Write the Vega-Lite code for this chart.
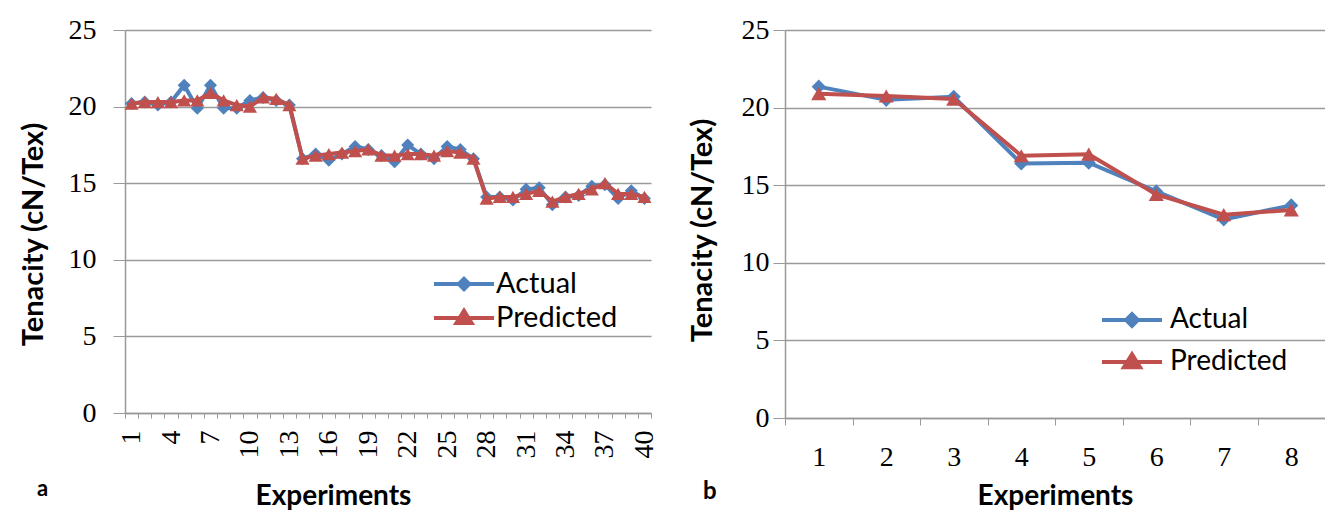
{
  "$schema": "https://vega.github.io/schema/vega-lite/v6.json",
  "background": "white",
  "padding": {"left": 19, "top": 16, "right": 0, "bottom": 0},
  "spacing": 29,
  "config": {
    "view": {"stroke": null},
    "font": "Lato",
    "legend": {"padding": 0}
  },
  "resolve": {
    "scale": {"color": "independent"},
    "legend": {"color": "independent"}
  },
  "datasets": {
    "a": [
      {"exp": 1, "series": "Actual", "value": 20.2}, {"exp": 2, "series": "Actual", "value": 20.3},
      {"exp": 3, "series": "Actual", "value": 20.1}, {"exp": 4, "series": "Actual", "value": 20.3},
      {"exp": 5, "series": "Actual", "value": 21.4}, {"exp": 6, "series": "Actual", "value": 19.9},
      {"exp": 7, "series": "Actual", "value": 21.4}, {"exp": 8, "series": "Actual", "value": 19.9},
      {"exp": 9, "series": "Actual", "value": 19.9}, {"exp": 10, "series": "Actual", "value": 20.4},
      {"exp": 11, "series": "Actual", "value": 20.6}, {"exp": 12, "series": "Actual", "value": 20.4},
      {"exp": 13, "series": "Actual", "value": 20.1}, {"exp": 14, "series": "Actual", "value": 16.6},
      {"exp": 15, "series": "Actual", "value": 16.9}, {"exp": 16, "series": "Actual", "value": 16.5},
      {"exp": 17, "series": "Actual", "value": 16.9}, {"exp": 18, "series": "Actual", "value": 17.4},
      {"exp": 19, "series": "Actual", "value": 17.2}, {"exp": 20, "series": "Actual", "value": 16.8},
      {"exp": 21, "series": "Actual", "value": 16.4}, {"exp": 22, "series": "Actual", "value": 17.5},
      {"exp": 23, "series": "Actual", "value": 16.9}, {"exp": 24, "series": "Actual", "value": 16.6},
      {"exp": 25, "series": "Actual", "value": 17.4}, {"exp": 26, "series": "Actual", "value": 17.2},
      {"exp": 27, "series": "Actual", "value": 16.6}, {"exp": 28, "series": "Actual", "value": 14.1},
      {"exp": 29, "series": "Actual", "value": 14.1}, {"exp": 30, "series": "Actual", "value": 13.9},
      {"exp": 31, "series": "Actual", "value": 14.6}, {"exp": 32, "series": "Actual", "value": 14.7},
      {"exp": 33, "series": "Actual", "value": 13.6}, {"exp": 34, "series": "Actual", "value": 14.1},
      {"exp": 35, "series": "Actual", "value": 14.2}, {"exp": 36, "series": "Actual", "value": 14.8},
      {"exp": 37, "series": "Actual", "value": 14.9}, {"exp": 38, "series": "Actual", "value": 14.0},
      {"exp": 39, "series": "Actual", "value": 14.5}, {"exp": 40, "series": "Actual", "value": 14.0},
      {"exp": 1, "series": "Predicted", "value": 20.2}, {"exp": 2, "series": "Predicted", "value": 20.3},
      {"exp": 3, "series": "Predicted", "value": 20.3}, {"exp": 4, "series": "Predicted", "value": 20.3},
      {"exp": 5, "series": "Predicted", "value": 20.4}, {"exp": 6, "series": "Predicted", "value": 20.4},
      {"exp": 7, "series": "Predicted", "value": 20.9}, {"exp": 8, "series": "Predicted", "value": 20.4},
      {"exp": 9, "series": "Predicted", "value": 20.1}, {"exp": 10, "series": "Predicted", "value": 20.0},
      {"exp": 11, "series": "Predicted", "value": 20.6}, {"exp": 12, "series": "Predicted", "value": 20.5},
      {"exp": 13, "series": "Predicted", "value": 20.1}, {"exp": 14, "series": "Predicted", "value": 16.6},
      {"exp": 15, "series": "Predicted", "value": 16.8}, {"exp": 16, "series": "Predicted", "value": 16.9},
      {"exp": 17, "series": "Predicted", "value": 17.0}, {"exp": 18, "series": "Predicted", "value": 17.1},
      {"exp": 19, "series": "Predicted", "value": 17.2}, {"exp": 20, "series": "Predicted", "value": 16.8},
      {"exp": 21, "series": "Predicted", "value": 16.8}, {"exp": 22, "series": "Predicted", "value": 16.9},
      {"exp": 23, "series": "Predicted", "value": 16.9}, {"exp": 24, "series": "Predicted", "value": 16.8},
      {"exp": 25, "series": "Predicted", "value": 17.1}, {"exp": 26, "series": "Predicted", "value": 17.0},
      {"exp": 27, "series": "Predicted", "value": 16.6}, {"exp": 28, "series": "Predicted", "value": 14.0},
      {"exp": 29, "series": "Predicted", "value": 14.1}, {"exp": 30, "series": "Predicted", "value": 14.1},
      {"exp": 31, "series": "Predicted", "value": 14.3}, {"exp": 32, "series": "Predicted", "value": 14.5},
      {"exp": 33, "series": "Predicted", "value": 13.8}, {"exp": 34, "series": "Predicted", "value": 14.1},
      {"exp": 35, "series": "Predicted", "value": 14.3}, {"exp": 36, "series": "Predicted", "value": 14.6},
      {"exp": 37, "series": "Predicted", "value": 15.0}, {"exp": 38, "series": "Predicted", "value": 14.3},
      {"exp": 39, "series": "Predicted", "value": 14.3}, {"exp": 40, "series": "Predicted", "value": 14.1}
    ],
    "b": [
      {"exp": 1, "series": "Actual", "value": 21.35}, {"exp": 2, "series": "Actual", "value": 20.5},
      {"exp": 3, "series": "Actual", "value": 20.7}, {"exp": 4, "series": "Actual", "value": 16.4},
      {"exp": 5, "series": "Actual", "value": 16.45}, {"exp": 6, "series": "Actual", "value": 14.6},
      {"exp": 7, "series": "Actual", "value": 12.8}, {"exp": 8, "series": "Actual", "value": 13.7},
      {"exp": 1, "series": "Predicted", "value": 20.9}, {"exp": 2, "series": "Predicted", "value": 20.75},
      {"exp": 3, "series": "Predicted", "value": 20.55}, {"exp": 4, "series": "Predicted", "value": 16.9},
      {"exp": 5, "series": "Predicted", "value": 17.0}, {"exp": 6, "series": "Predicted", "value": 14.4},
      {"exp": 7, "series": "Predicted", "value": 13.1}, {"exp": 8, "series": "Predicted", "value": 13.4}
    ]
  },
  "hconcat": [
    {
      "width": 526,
      "height": 383,
      "data": {"name": "a"},
      "title": {"text": "a", "orient": "bottom", "anchor": "start", "frame": "group", "dx": -88, "dy": -35, "font": "Lato", "fontSize": 22, "fontWeight": "bold", "color": "black"},
      "encoding": {
        "x": {
          "field": "exp", "type": "ordinal", "bandPosition": 0.5,
          "scale": {"type": "band", "paddingInner": 0, "paddingOuter": 0},
          "axis": {
            "title": "Experiments", "titleFont": "Lato", "titleFontSize": 28, "titleFontWeight": "bold", "titleColor": "black", "titlePadding": 24, "titleX": 208,
            "labelAngle": -90, "labelFont": "Liberation Serif", "labelFontSize": 28, "labelColor": "black", "labelPadding": 12,
            "labelOverlap": false, "labelExpr": "(datum.value - 1) % 3 === 0 ? datum.label : ''",
            "tickBand": "extent", "tickSize": 5, "tickColor": "#999999", "domainColor": "#999999", "domainWidth": 1.5, "grid": false
          }
        },
        "y": {
          "field": "value", "type": "quantitative",
          "scale": {"domain": [0, 25], "nice": false},
          "axis": {
            "title": "Tenacity (cN/Tex)", "titleFont": "Lato", "titleFontSize": 29, "titleFontWeight": "bold", "titleColor": "black", "titlePadding": 20, "titleY": 204,
            "values": [0, 5, 10, 15, 20, 25], "labelFont": "Liberation Serif", "labelFontSize": 28, "labelColor": "black", "labelPadding": 17,
            "tickSize": 12, "tickColor": "#999999", "domainColor": "#999999", "domainWidth": 1.5,
            "grid": true, "gridColor": "#9a9a9a", "gridWidth": 1.5
          }
        },
        "color": {
          "field": "series", "type": "nominal",
          "scale": {"domain": ["Actual", "Predicted"], "range": ["#4F81BD", "#C0504D"]},
          "legend": {
            "orient": "none", "legendX": 324, "legendY": 239, "title": null,
            "symbolSize": 676, "labelFont": "Lato", "labelFontSize": 29, "labelColor": "black", "labelOffset": 17, "rowPadding": 3,
            "encode": {"symbols": {"update": {
              "shape": {"signal": "datum.value === 'Actual' ? 'M-2.31,0L2.31,0M0,-0.4L0.4,0L0,0.4L-0.4,0Z' : 'M-2.31,0L2.31,0M0,-0.55L0.58,0.38L-0.58,0.38Z'"},
              "fill": {"signal": "datum.value === 'Actual' ? '#4F81BD' : '#C0504D'"},
              "stroke": {"signal": "datum.value === 'Actual' ? '#4F81BD' : '#C0504D'"},
              "strokeWidth": {"value": 4}, "opacity": {"value": 1}, "fillOpacity": {"value": 1}
            }}}
          }
        }
      },
      "layer": [
        {"transform": [{"filter": "datum.series === 'Actual'"}], "mark": {"type": "line", "strokeWidth": 4}},
        {"transform": [{"filter": "datum.series === 'Actual'"}], "mark": {"type": "point", "filled": true, "opacity": 1, "shape": "diamond", "size": 170}},
        {"transform": [{"filter": "datum.series === 'Predicted'"}], "mark": {"type": "line", "strokeWidth": 4}},
        {"transform": [{"filter": "datum.series === 'Predicted'"}], "mark": {"type": "point", "filled": true, "opacity": 1, "shape": "triangle-up", "size": 200}}
      ]
    },
    {
      "width": 540,
      "height": 388,
      "data": {"name": "b"},
      "title": {"text": "b", "orient": "bottom", "anchor": "start", "frame": "group", "dx": -82, "dy": -34, "font": "Lato", "fontSize": 24, "fontWeight": "bold", "color": "black"},
      "encoding": {
        "x": {
          "field": "exp", "type": "ordinal", "bandPosition": 0.5,
          "scale": {"type": "band", "paddingInner": 0, "paddingOuter": 0},
          "axis": {
            "title": "Experiments", "titleFont": "Lato", "titleFontSize": 28, "titleFontWeight": "bold", "titleColor": "black", "titlePadding": 11,
            "labelAngle": 0, "labelFont": "Liberation Serif", "labelFontSize": 28, "labelColor": "black", "labelPadding": 18,
            "tickBand": "extent", "tickSize": 7, "tickColor": "#999999", "domainColor": "#999999", "domainWidth": 1.5, "grid": false
          }
        },
        "y": {
          "field": "value", "type": "quantitative",
          "scale": {"domain": [0, 25], "nice": false},
          "axis": {
            "title": "Tenacity (cN/Tex)", "titleFont": "Lato", "titleFontSize": 29, "titleFontWeight": "bold", "titleColor": "black", "titlePadding": 24, "titleY": 200,
            "values": [0, 5, 10, 15, 20, 25], "labelFont": "Liberation Serif", "labelFontSize": 28, "labelColor": "black", "labelPadding": 4,
            "tickSize": 12, "tickColor": "#999999", "domainColor": "#999999", "domainWidth": 1.5,
            "grid": true, "gridColor": "#9a9a9a", "gridWidth": 1.5
          }
        },
        "color": {
          "field": "series", "type": "nominal",
          "scale": {"domain": ["Actual", "Predicted"], "range": ["#4F81BD", "#C0504D"]},
          "legend": {
            "orient": "none", "legendX": 332, "legendY": 275, "title": null,
            "symbolSize": 676, "labelFont": "Lato", "labelFontSize": 28, "labelColor": "black", "labelOffset": 23, "rowPadding": 12,
            "encode": {"symbols": {"update": {
              "shape": {"signal": "datum.value === 'Actual' ? 'M-2.31,0L2.31,0M0,-0.45L0.45,0L0,0.45L-0.45,0Z' : 'M-2.31,0L2.31,0M0,-0.6L0.62,0.4L-0.62,0.4Z'"},
              "fill": {"signal": "datum.value === 'Actual' ? '#4F81BD' : '#C0504D'"},
              "stroke": {"signal": "datum.value === 'Actual' ? '#4F81BD' : '#C0504D'"},
              "strokeWidth": {"value": 4}, "opacity": {"value": 1}, "fillOpacity": {"value": 1}
            }}}
          }
        }
      },
      "layer": [
        {"transform": [{"filter": "datum.series === 'Actual'"}], "mark": {"type": "line", "strokeWidth": 4}},
        {"transform": [{"filter": "datum.series === 'Actual'"}], "mark": {"type": "point", "filled": true, "opacity": 1, "shape": "diamond", "size": 200}},
        {"transform": [{"filter": "datum.series === 'Predicted'"}], "mark": {"type": "line", "strokeWidth": 4}},
        {"transform": [{"filter": "datum.series === 'Predicted'"}], "mark": {"type": "point", "filled": true, "opacity": 1, "shape": "triangle-up", "size": 230}}
      ]
    }
  ]
}
